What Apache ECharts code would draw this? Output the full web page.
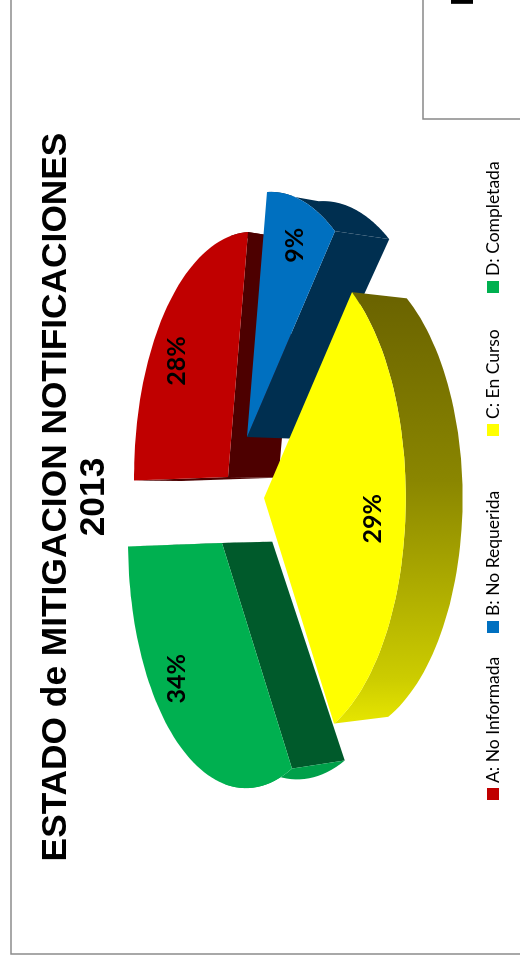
<!DOCTYPE html>
<meta charset="utf-8" />
<style>
html, body { margin: 0; width: 520px; height: 962px; overflow: hidden; background: #fff; }
#chart {
  position: absolute;
  left: 0;
  top: 0;
  width: 962px;
  height: 520px;
  transform-origin: 0 0;
  transform: translateY(962px) rotate(-90deg);
}
</style>
<div id="chart"></div>
<script src="https://cdn.jsdelivr.net/npm/echarts@6.0.0/dist/echarts.min.js"></script>
<script>
const titleText = 'ESTADO de MITIGACION NOTIFICACIONES\n2013';
const categories = ['A: No Informada', 'B: No Requerida', 'C: En Curso', 'D: Completada'];
const shares = [28, 9, 29, 34];

const topColors = ['#c00000', '#0070c0', '#ffff00', '#00b050'];
const wallColors = ['#4d0000', '#002f50', '#6b6400', '#005a2b'];
const rimColors = ['#4d0000', '#002f50', null, '#00a04a'];
// how far each slice is pulled out of the pie, and where its label sits along the radius
const pull = [[21, -12], [61, 7], [0, 24], [-45, -18]];
const labelAt = [[0.72, 0.78], [0.81, 0.88], [0.9, 0.77], [0.7, 0.94]];
const legendLeft = [162, 329, 526, 669];
// red and green first, the yellow slice sits on top of everything
const drawOrder = [0, 3, 1, 2];

const CX = 464, CY = 240;
const RX = 240, RY = 113, PERSP = 0.203;
const DEPTH = 51, DEPTH_SLOPE = 0.035, SHRINK = 0.97;
const START = -91;

const rad = d => d * Math.PI / 180;
const total = shares.reduce((a, b) => a + b, 0);
const startAngles = shares.map((_, i) => START + shares.slice(0, i).reduce((a, b) => a + b, 0) / total * 360);

const project = (deg) => {
  const c = Math.cos(rad(deg)), s = Math.sin(rad(deg));
  const w = 1 - PERSP * s;
  return [RX * c / w, RY * s / w];
};
const drop = ([x, y]) => [CX + (x - CX) * SHRINK, y + DEPTH + (y - CY) * DEPTH_SLOPE];

const yellowRim = new echarts.graphic.LinearGradient(232, 0, 662, 0, [
  { offset: 0, color: '#eaea00' },
  { offset: 0.12, color: '#cccc00' },
  { offset: 0.58, color: '#8a8600' },
  { offset: 1, color: '#6b6400' }
], true);

function renderSlice(i) {
  const a0 = startAngles[i];
  const a1 = a0 + shares[i] / total * 360;
  const ox = CX + pull[i][0], oy = CY + pull[i][1];
  const at = (deg) => {
    const p = project(deg);
    return [ox + p[0], oy + p[1]];
  };
  const apex = [ox, oy];
  const arc = [];
  for (let k = 0; k <= 60; k++) arc.push(at(a0 + (a1 - a0) * k / 60));

  const children = [];
  const wall = (edge, fill) => children.push({
    type: 'polygon',
    shape: { points: [apex, edge, drop(edge), drop(apex)] },
    style: { fill }
  });
  if (Math.cos(rad(a0)) < 0.1) wall(arc[0], wallColors[i]);
  if (Math.cos(rad(a1)) > -0.1) wall(arc[60], wallColors[i]);

  const front = arc.filter((_, k) => Math.sin(rad(a0 + (a1 - a0) * k / 60)) >= 0);
  if (front.length > 1) {
    children.push({
      type: 'polygon',
      shape: { points: front.concat(front.map(drop).reverse()) },
      style: { fill: rimColors[i] || yellowRim }
    });
  }
  children.push({
    type: 'polygon',
    shape: { points: [apex].concat(arc) },
    style: { fill: topColors[i] }
  });
  const mid = project((a0 + a1) / 2);
  children.push({
    type: 'text',
    z2: 10,
    style: {
      x: ox + mid[0] * labelAt[i][0],
      y: oy + mid[1] * labelAt[i][1],
      text: shares[i] + '%',
      align: 'center',
      verticalAlign: 'middle',
      fill: '#000',
      font: 'bold 25px Lato'
    }
  });
  return { type: 'group', children };
}

const chart = echarts.init(document.getElementById('chart'));
chart.setOption({
  animation: false,
  backgroundColor: '#fff',
  title: {
    text: titleText,
    left: 460,
    top: 32,
    textAlign: 'center',
    textStyle: {
      fontFamily: 'Liberation Sans',
      fontWeight: 'bold',
      fontSize: 35.3,
      lineHeight: 38,
      color: '#000'
    }
  },
  legend: categories.map((name, i) => ({
    data: [name],
    left: legendLeft[i],
    top: 484,
    padding: 0,
    itemWidth: 12,
    itemHeight: 12,
    icon: 'rect',
    textStyle: { fontFamily: 'Lato', fontSize: 17.5, color: '#000', padding: [4, 0, 0, 0] }
  })),
  graphic: [
    {
      type: 'rect',
      shape: { x: 8, y: 11, width: 1000, height: 600 },
      style: { fill: 'none', stroke: '#8c8c8c', lineWidth: 1.5 },
      silent: true
    },
    {
      type: 'rect',
      shape: { x: 843, y: 423, width: 200, height: 200 },
      style: { fill: '#fff', stroke: '#888', lineWidth: 1.5 },
      silent: true
    },
    {
      type: 'text',
      x: 956,
      y: 464,
      style: { text: 'E', fill: '#000', font: 'bold 32px Liberation Sans', verticalAlign: 'middle' },
      silent: true
    }
  ],
  series: drawOrder.map(i => ({
    type: 'custom',
    name: categories[i],
    coordinateSystem: 'none',
    itemStyle: { color: topColors[i] },
    silent: true,
    data: [shares[i]],
    renderItem: () => renderSlice(i)
  }))
});
</script>
